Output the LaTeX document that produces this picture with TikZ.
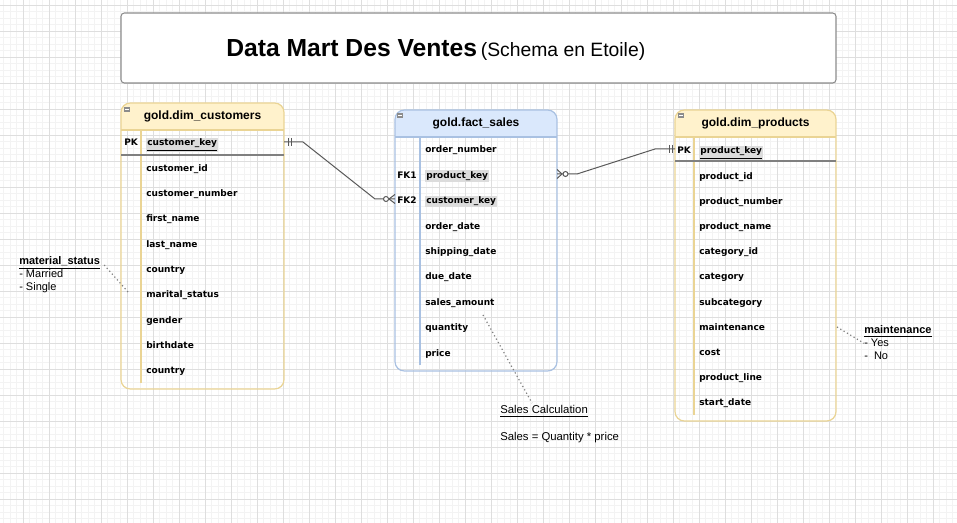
\documentclass[tikz,border=0pt]{standalone}
\usepackage{fontspec}
\setmainfont{Liberation Sans}
\newfontfamily\fieldfont{DejaVu Sans}
\definecolor{gridmajor}{HTML}{DEDEDE}
\definecolor{gridminor}{HTML}{F3F3F3}
\definecolor{yelfill}{HTML}{FFF2CC}
\definecolor{yelline}{HTML}{EAD494}
\definecolor{bluefill}{HTML}{DAE8FC}
\definecolor{blueline}{HTML}{A9C1E2}
\definecolor{keybg}{HTML}{DCDCDC}
\definecolor{relline}{HTML}{595959}

\begin{document}
\begin{tikzpicture}[x=0.75pt,y=-0.75pt,
    field/.style={anchor=base west,inner sep=0pt,font=\fieldfont\bfseries\fontsize{6.75}{8}\selectfont},
    keyfield/.style={field,fill=keybg,inner sep=0.8pt},
    tabtitle/.style={inner sep=0pt,font=\bfseries\fontsize{9}{11}\selectfont},
    note/.style={anchor=base west,inner sep=0pt,font=\fontsize{8.25}{10}\selectfont},
    rel/.style={draw=relline,line width=0.75pt},
    hint/.style={draw=gray,dotted,line width=0.9pt}]
    \useasboundingbox (0,0) rectangle (957,523);
    \fill[white] (0,0) rectangle (957,523);
    % grid
    \begin{scope}
        \clip (0,0) rectangle (957,523);
        \foreach \i in {0,...,148} \draw[gridminor,line width=0.5pt] ({-3+6.5*\i},0) -- ++(0,523);
        \foreach \i in {0,...,82} \draw[gridminor,line width=0.5pt] (0,{-1.2+6.5*\i}) -- ++(957,0);
        \foreach \i in {0,...,37} \draw[gridmajor,line width=0.6pt] ({-2.7+26*\i},0) -- ++(0,523);
        \foreach \i in {0,...,20} \draw[gridmajor,line width=0.6pt] (0,{5.3+26*\i}) -- ++(957,0);
    \end{scope}

    % title
    \node[draw=black!45,fill=white,line width=0.8pt,rounded corners=2.5pt,minimum width=536.25pt,minimum height=52.5pt,inner sep=0pt] (titleBox) at (478.5,48) {};
    \node[anchor=base west,inner sep=0pt] (titleText) at (226,57) {{\bfseries\fontsize{18.5}{22}\selectfont Data Mart Des Ventes} {\fontsize{14.5}{17}\selectfont (Schema en Etoile)}};

    % customers
    \begin{scope}
        \clip[rounded corners=7pt] (121,103) rectangle (284,389);
        \fill[yelfill] (121,103) rectangle (284,130);
    \end{scope}
    \draw[yelline,line width=0.9pt,rounded corners=7pt] (121,103) rectangle (284,389);
    \draw[yelline,line width=0.9pt] (121,130) -- (284,130);
    \draw[yelline,line width=0.9pt] (141,130) -- (141,383);
    \draw[black!50,line width=0.9pt] (121,155) -- (284,155);
    \fill[black!45] (124,107) rectangle (130,112);
    \draw[white,line width=0.4pt] (125,109.5) -- (129,109.5);
    \node[tabtitle] (custTitle) at (202.5,116.5) {gold.dim\_customers};
    \node[field] (custPKlabel) at (124,146) {PK};
    \node[keyfield] (custKey) at (146,146) {\underline{customer\_key}};
    \node[field] (custId) at (146,171.3) {customer\_id};
    \node[field] (custNumber) at (146,196.6) {customer\_number};
    \node[field] (custFirst) at (146,221.9) {first\_name};
    \node[field] (custLast) at (146,247.2) {last\_name};
    \node[field] (custCountry) at (146,272.5) {country};
    \node[field] (custMarital) at (146,297.8) {marital\_status};
    \node[field] (custGender) at (146,323.1) {gender};
    \node[field] (custBirth) at (146,348.4) {birthdate};
    \node[field] (custCountryB) at (146,373.7) {country};

    % fact sales
    \begin{scope}
        \clip[rounded corners=7pt] (395,110) rectangle (557,371);
        \fill[bluefill] (395,110) rectangle (557,137);
    \end{scope}
    \draw[blueline,line width=0.9pt,rounded corners=7pt] (395,110) rectangle (557,371);
    \draw[blueline,line width=0.9pt] (395,137) -- (557,137);
    \draw[blueline,line width=0.9pt] (420,137) -- (420,365);
    \fill[black!45] (397,113) rectangle (403,118);
    \draw[white,line width=0.4pt] (398,115.5) -- (402,115.5);
    \node[tabtitle] (factTitle) at (476,123.5) {gold.fact\_sales};
    \node[field] (factOrder) at (425,153) {order\_number};
    \node[field] (factFK1label) at (397,178.4) {FK1};
    \node[keyfield] (factProduct) at (425,178.4) {product\_key};
    \node[field] (factFK2label) at (397,203.8) {FK2};
    \node[keyfield] (factCustomer) at (425,203.8) {customer\_key};
    \node[field] (factDate) at (425,229.2) {order\_date};
    \node[field] (factShip) at (425,254.6) {shipping\_date};
    \node[field] (factDue) at (425,280) {due\_date};
    \node[field] (factAmount) at (425,305.4) {sales\_amount};
    \node[field] (factQty) at (425,330.8) {quantity};
    \node[field] (factPrice) at (425,356.2) {price};

    % products
    \begin{scope}
        \clip[rounded corners=7pt] (675,110) rectangle (836,421);
        \fill[yelfill] (675,110) rectangle (836,137);
    \end{scope}
    \draw[yelline,line width=0.9pt,rounded corners=7pt] (675,110) rectangle (836,421);
    \draw[yelline,line width=0.9pt] (675,137) -- (836,137);
    \draw[yelline,line width=0.9pt] (694,137) -- (694,415);
    \draw[black!50,line width=0.9pt] (675,161) -- (836,161);
    \fill[black!45] (678,113) rectangle (684,118);
    \draw[white,line width=0.4pt] (679,115.5) -- (683,115.5);
    \node[tabtitle] (prodTitle) at (755.5,123.5) {gold.dim\_products};
    \node[field] (prodPKlabel) at (677,154) {PK};
    \node[keyfield] (prodKey) at (699,154) {\underline{product\_key}};
    \node[field] (prodId) at (699,179.2) {product\_id};
    \node[field] (prodNumber) at (699,204.4) {product\_number};
    \node[field] (prodName) at (699,229.6) {product\_name};
    \node[field] (prodCatId) at (699,254.8) {category\_id};
    \node[field] (prodCat) at (699,280) {category};
    \node[field] (prodSub) at (699,305.2) {subcategory};
    \node[field] (prodMaint) at (699,330.4) {maintenance};
    \node[field] (prodCost) at (699,355.6) {cost};
    \node[field] (prodLine) at (699,380.8) {product\_line};
    \node[field] (prodStart) at (699,406) {start\_date};

    % relations
    \coordinate (custPK) at (284,142);
    \coordinate (factFK2) at (395,199);
    \coordinate (factFK1) at (557,174);
    \coordinate (prodPK) at (675,149);
    \draw[rel] (custPK) -- ++(19,0) -- ++(72,57) -- (factFK2);
    \draw[rel] (custPK) ++(4,-4) -- ++(0,8) (custPK) ++(7,-4) -- ++(0,8);
    \draw[rel] (factFK2) ++(-6,0) -- ++(6,-4.5) (factFK2) ++(-6,0) -- ++(6,4.5);
    \draw[rel,fill=white] (factFK2) ++(-9,0) circle[radius=2.5];
    \draw[rel] (factFK1) -- ++(20,0) -- ++(78,-25) -- (prodPK);
    \draw[rel] (factFK1) ++(5,0) -- ++(-5,-4.5) (factFK1) ++(5,0) -- ++(-5,4.5);
    \draw[rel,fill=white] (factFK1) ++(8.5,0) circle[radius=2.5];
    \draw[rel] (prodPK) ++(-6,-4) -- ++(0,8) (prodPK) ++(-3,-4) -- ++(0,8);

    % notes
    \node[note,font=\bfseries\fontsize{8.25}{10}\selectfont] (msTitle) at (19,265) {\underline{material\_status}};
    \node[note] (msMarried) at (19,278) {- Married};
    \node[note] (msSingle) at (19,291) {- Single};
    \coordinate (msEnd) at (128,292);
    \draw[hint] (msTitle.base east) ++(4,0) -- (msEnd);
    \node[note,font=\bfseries\fontsize{8.25}{10}\selectfont] (mtTitle) at (864,334) {\underline{maintenance}};
    \node[note] (mtYes) at (864,347) {- Yes};
    \node[note] (mtNo) at (864,360) {-~ No};
    \coordinate (mtStart) at (837,327);
    \draw[hint] (mtStart) -- (mtYes.west);
    \node[note,font=\fontsize{8.5}{10}\selectfont] (calcTitle) at (500,414) {\underline{Sales Calculation}};
    \node[note,font=\fontsize{8.5}{10}\selectfont] (calcFormula) at (500,441) {Sales = Quantity * price};
    \coordinate (calcStart) at (483,315);
    \draw[hint] (calcStart) -- (532,403);
\end{tikzpicture}
\end{document}
